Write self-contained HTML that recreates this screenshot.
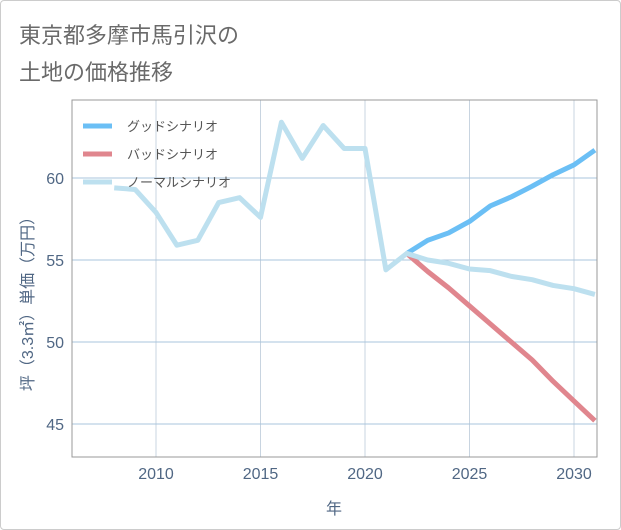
<!DOCTYPE html>
<html><head><meta charset="utf-8"><style>
body{margin:0;background:#fff;}
#card{position:absolute;left:0;top:0;width:619px;height:528px;border:1px solid #ccc;border-radius:4px;background:#fff;}
#title{position:absolute;left:18px;top:16px;font:22px "Liberation Sans","Noto Sans CJK JP",sans-serif;color:#6a6a6a;line-height:37px;}
svg{position:absolute;left:0;top:0;}
text{font-family:"Liberation Sans","Noto Sans CJK JP",sans-serif;}
</style></head><body>
<div id="card">
<div id="title">東京都多摩市馬引沢の<br>土地の価格推移</div>
</div>
<svg id="chart" width="621" height="530"></svg>
<script>
const normalYears=[2008,2009,2010,2011,2012,2013,2014,2015,2016,2017,2018,2019,2020,2021,2022,2023,2024,2025,2026,2027,2028,2029,2030,2031];
const normalVals=[59.4,59.3,57.9,55.9,56.2,58.5,58.8,57.6,63.4,61.2,63.2,61.8,61.8,54.4,55.4,55.0,54.8,54.45,54.35,54.0,53.8,53.45,53.25,52.9];
const futureYears=[2022,2023,2024,2025,2026,2027,2028,2029,2030,2031];
const goodVals=[55.4,56.2,56.65,57.35,58.3,58.85,59.5,60.2,60.8,61.7];
const badVals=[55.4,54.3,53.3,52.2,51.1,50.0,48.9,47.6,46.4,45.2];
const xTicks=[2010,2015,2020,2025,2030];
const yTicks=[45,50,55,60];
const L=72,R=597,T=100,B=457;
const xs=y=>156+(y-2010)*20.9;
const ys=v=>178+(60-v)*16.4;
const NS='http://www.w3.org/2000/svg';
const svg=document.getElementById('chart');
function mk(t,a){const e=document.createElementNS(NS,t);for(const k in a)e.setAttribute(k,a[k]);svg.appendChild(e);return e;}
xTicks.forEach(t=>{
 const g=mk('line',{x1:xs(t),x2:xs(t),y1:T,y2:B,stroke:'#c8d4e0','stroke-width':1});
 
 
 const l=mk('text',{x:xs(t),y:479,'text-anchor':'middle','font-size':16,fill:'#506784'});
 l.textContent=t;
 
 
});
yTicks.forEach(t=>{
 const g=mk('line',{x1:L,x2:R,y1:ys(t),y2:ys(t),stroke:'#a9c4dc','stroke-width':1});
 
 
 const l=mk('text',{x:64,y:ys(t)+6,'text-anchor':'end','font-size':16,fill:'#506784'});
 l.textContent=t;
 
 
});
const box=mk('rect',{x:L,y:T,width:R-L,height:B-T,fill:'none',stroke:'#999','stroke-width':1});


const defs=mk('clipPath',{id:'clip'});
const cr=document.createElementNS(NS,'rect');cr.setAttribute('x',L);cr.setAttribute('y',T);cr.setAttribute('width',R-L);cr.setAttribute('height',B-T);defs.appendChild(cr);
function series(yrs,vals,color,name){
 const p=mk('polyline',{points:yrs.map((y,i)=>xs(y)+','+ys(vals[i])).join(' '),fill:'none',stroke:color,'stroke-width':5,'stroke-linejoin':'round','clip-path':'url(#clip)'});
 
 
}
series(futureYears,badVals,'#e0868e','bad-scenario-line');
series(futureYears,goodVals,'#6bbff5','good-scenario-line');
series(normalYears,normalVals,'#bde0ef','normal-scenario-line');
const leg=[['グッドシナリオ','#6bbff5'],['バッドシナリオ','#e0868e'],['ノーマルシナリオ','#bde0ef']];
leg.forEach((e,i)=>{
 const y=126+i*28;
 const s=mk('line',{x1:83,x2:112,y1:y,y2:y,stroke:e[1],'stroke-width':5});
 
 
 const t=mk('text',{x:127,y:y+5,'font-size':13,fill:'#555'});
 t.textContent=e[0];
 
 
});
const xt=mk('text',{x:334,y:514,'text-anchor':'middle','font-size':16,fill:'#506784'});
xt.textContent='年';


const yt=mk('text',{x:0,y:0,'text-anchor':'middle','font-size':16,fill:'#506784',transform:'translate(33,300) rotate(-90)'});
yt.textContent='坪（3.3㎡）単価（万円）';


</script>
</body></html>
